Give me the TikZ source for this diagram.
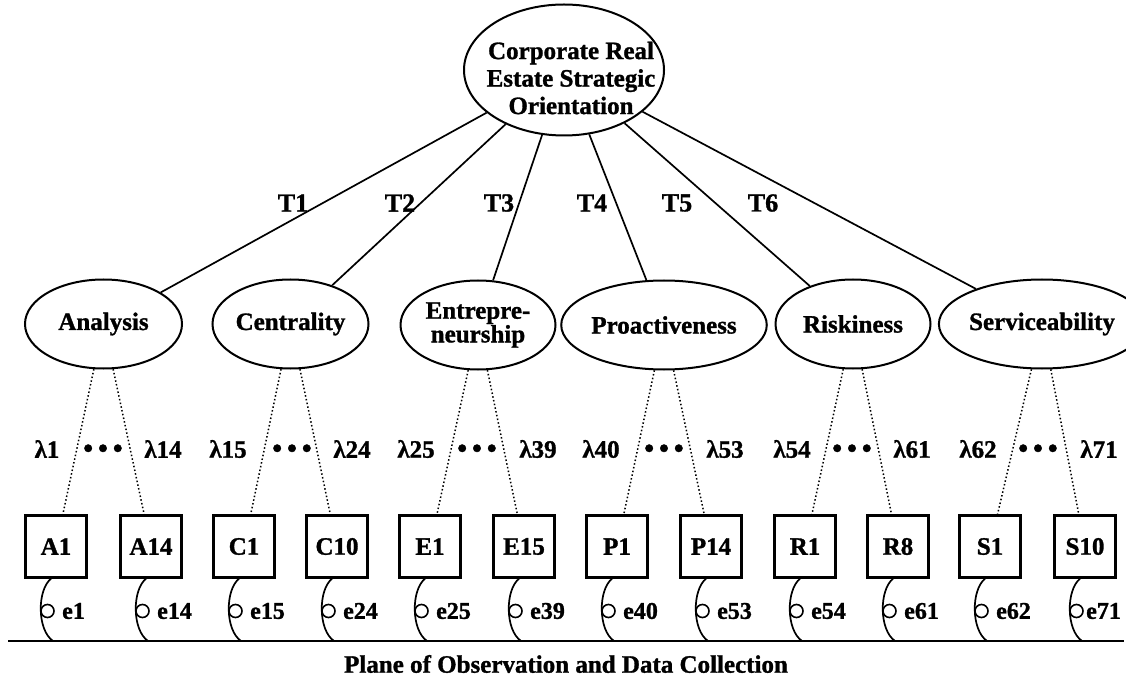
\documentclass[tikz,border=0pt]{standalone}
\usepackage{fontspec}
\setmainfont{Liberation Serif}[BoldFeatures={FakeBold=1.2}]
\usetikzlibrary{shapes.geometric}
\begin{document}
\begin{tikzpicture}[x=1pt,y=-1pt,
  every node/.style={font=\bfseries\fontsize{25}{28}\selectfont},
  latent/.style={draw,ellipse,line width=2pt,inner sep=0pt,minimum height=89pt},
  item/.style={draw,rectangle,line width=2.4pt,minimum width=61pt,minimum height=62pt,inner sep=0pt},
  tie/.style={line width=1.7pt},
  load/.style={line width=1.5pt,dash pattern=on 1.5pt off 2.3pt},
  errc/.style={draw,circle,line width=1.6pt,minimum size=13pt,inner sep=0pt},
  errl/.style={font=\bfseries\fontsize{24}{26}\selectfont,anchor=west,inner sep=0pt},
  errarc/.style={line width=1.7pt},
  dots/.style={font=\bfseries\fontsize{28}{28}\selectfont,inner sep=0pt},
  pathlabel/.style={font=\bfseries\fontsize{26}{28}\selectfont}
]
\useasboundingbox (0,0) rectangle (1126,684);

% second-order factor
\node[latent,minimum width=200pt,minimum height=131pt] (cre) at (564,70) {};
\node[align=center,font=\bfseries\fontsize{25}{27.5}\selectfont] (cretitle) at (571,78)
  {Corporate Real\\Estate Strategic\\Orientation};

% first-order factors
\node[latent,minimum width=157pt] (an) at (103.5,324) {Analysis};
\node[latent,minimum width=156pt] (ce) at (290.5,324) {Centrality};
\node[latent,minimum width=155pt,align=center,font=\bfseries\fontsize{25}{21}\selectfont] (en) at (478,325) {Entrepre-\\neurship};
\node[latent,minimum width=160pt] (pr) at (664,325) {Proactiveness};
\node[latent,minimum width=155pt] (ri) at (853,324) {Riskiness};
\node[latent,minimum width=160pt] (se) at (1042,324) {Serviceability};

% gamma paths
\foreach \f in {an,ce,en,pr,ri,se} \draw[tie] (cre) -- (\f);
\node[pathlabel] (t1) at (293,203) {T1};
\node[pathlabel] (t2) at (400,203) {T2};
\node[pathlabel] (t3) at (499,203) {T3};
\node[pathlabel] (t4) at (592,203) {T4};
\node[pathlabel] (t5) at (677,203) {T5};
\node[pathlabel] (t6) at (763,203) {T6};

% observed items
\foreach \n/\x/\t in {a1/56/A1,a14/151/A14,c1/244/C1,c10/337/C10,e1/430/E1,e15/524/E15,
                      p1/617/P1,p14/711/P14,r1/805/R1,r8/898/R8,s1/990/S1,s10/1085/S10}
  \node[item] (\n) at (\x,546.5) {\t};

% loadings
\foreach \f/\a/\b in {an/a1/a14,ce/c1/c10,en/e1/e15,pr/p1/p14,ri/r1/r8,se/s1/s10}{
  \draw[load] (\f) -- (\a);
  \draw[load] (\f) -- (\b);
}
\foreach \n/\x/\t in {l1/47/λ1,l14/163/λ14,l15/228/λ15,l24/352/λ24,
                      l25/416/λ25,l39/538/λ39,l40/601/λ40,l53/725/λ53,
                      l54/792/λ54,l61/912/λ61,l62/978/λ62,l71/1099/λ71}
  \node (\n) at (\x,449) {\t};
\foreach \n/\x in {d1/103,d2/292,d3/477,d4/664,d5/852,d6/1038}
  \node[dots] (\n) at (\x,451) {•\hspace{5pt}•\hspace{5pt}•};

% plane of observation
\coordinate (gl) at (8,641);
\coordinate (gr) at (1124,641);
\draw[line width=2.4pt] (gl) -- (gr);

% error terms
\foreach \n/\x/\t/\d in {a1/56/e1/6,a14/151/e14/6,c1/244/e15/6,c10/337/e24/6,e1/430/e25/6,e15/524/e39/6,
                         p1/617/e40/6,p14/711/e53/6,r1/805/e54/6,r8/898/e61/6,s1/990/e62/6,s10/1085/e71/1}{
  \draw[errarc] ([xshift=-5pt]\n.south) .. controls (\x-19,590) and (\x-19,630) .. (\x-3,641);
  \node[errc] (c\n) at (\x-8.5,611) {};
  \node[errl] (l\n) at (\x+\d,611) {\t};
}

\node (plane) at (566,664) {Plane of Observation and Data Collection};
\end{tikzpicture}
\end{document}
